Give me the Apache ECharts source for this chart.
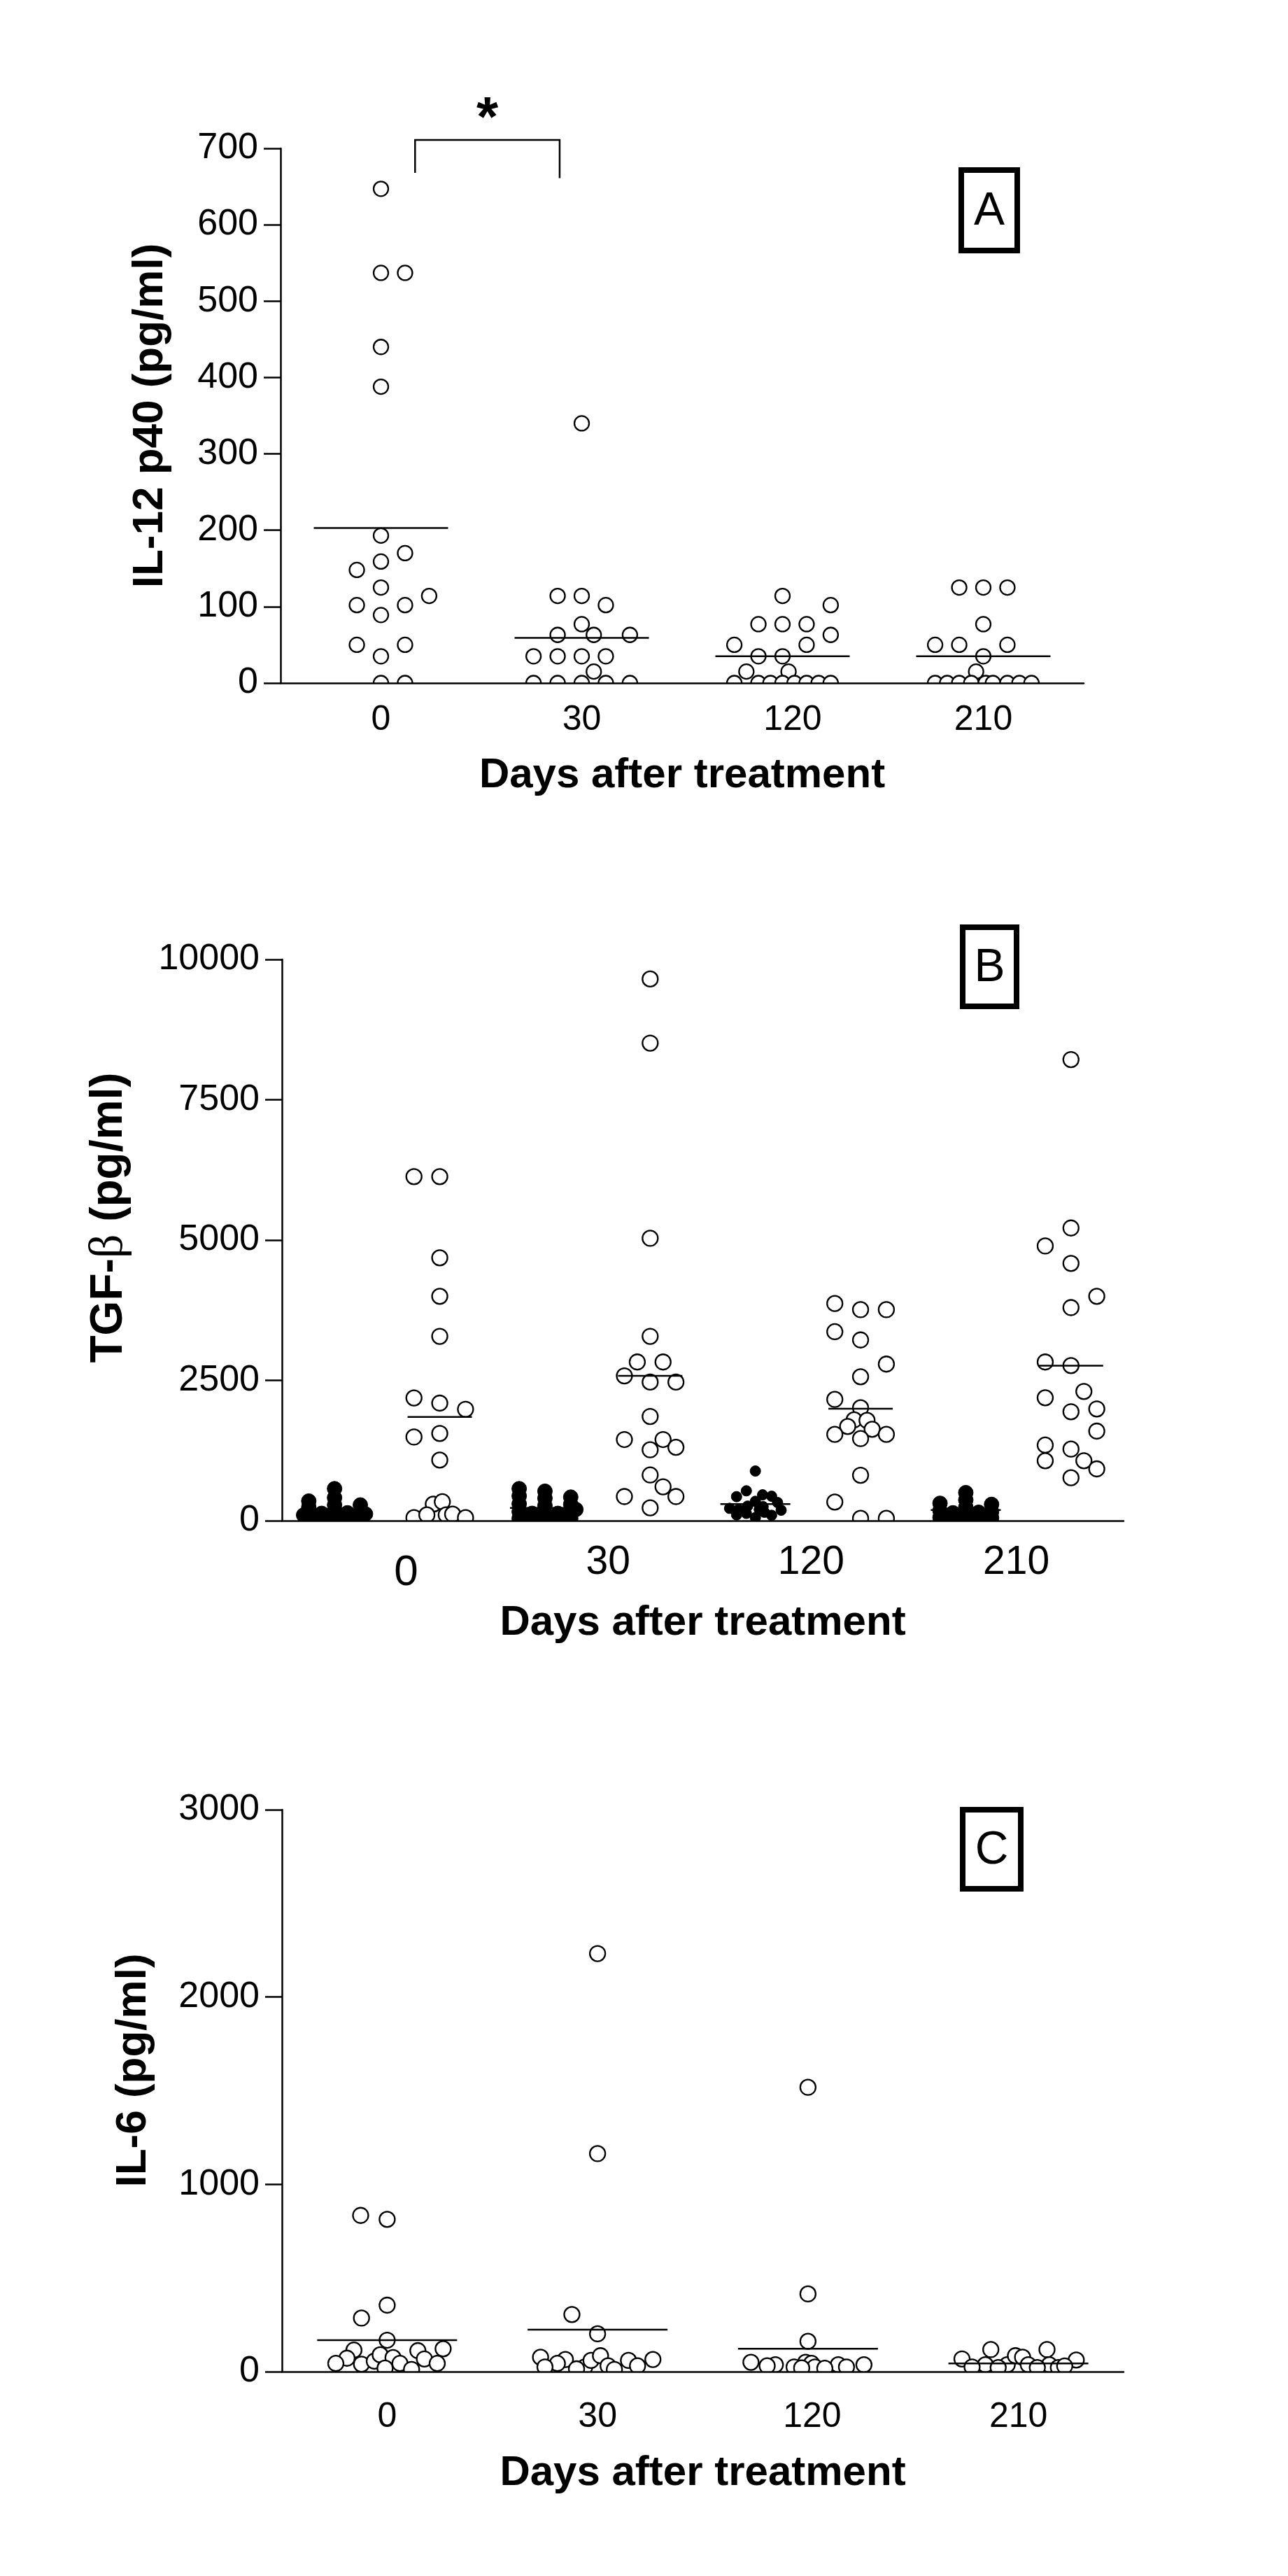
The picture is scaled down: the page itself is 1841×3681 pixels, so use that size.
<!DOCTYPE html>
<html style="height: 100%">
<head>
<meta charset="utf-8">
</head>
<body style="height: 100%; margin: 0; background: #fff">
<div id="container" style="width: 1841px; height: 3681px"></div>
<script type="text/javascript" src="https://cdn.jsdelivr.net/npm/echarts@6/dist/echarts.min.js"></script>
<script type="text/javascript">
var days = ['0', '30', '120', '210'];

// A: IL-12 p40 (pg/ml), each point is [column offset, value]
var il12Day0 = [[0,647],[0,537],[1,537],[0,440],[0,388],[0,193],[1,170],[0,159],[-1,148],[0,125],[2,114],[-1,102],[1,102],[0,89],[-1,50],[1,50],[0,35],[0,0],[1,0]];
var il12Day30 = [[0,340],[-1,114],[0,114],[1,102],[0,77],[-1,63],[0.5,63],[2,63],[-2,35],[-1,35],[0,35],[1,35],[0.5,15],[-2,0],[-1,0],[0,0],[1,0],[2,0]];
var il12Day120 = [[0,114],[2,102],[-1,77],[0,77],[1,77],[2,63],[-2,50],[1,50],[-1,35],[0,35],[-1.5,15],[0.25,15],[-2,0],[-1,0],[-0.5,0],[0,0],[0.5,0],[1,0],[1.5,0],[2,0]];
var il12Day210 = [[-1,125],[0,125],[1,125],[0,77],[-2,50],[-1,50],[1,50],[0,35],[-0.3,15],[-2,0],[-1.5,0],[-1,0],[-0.5,0],[0.1,0],[0.4,0],[1,0],[1.5,0],[2,0]];
var il12Means = [203, 59, 35, 35];
// bracket: x from, x to, top, left end, right end
var il12Bracket = [[0.67, 1.39, 711, 668, 661]];

// B: TGF-beta (pg/ml), filled and open groups per day
var tgfFilled0 = [[-1,350],[-1,240],[-1,120],[-1,40],[0,570],[0,410],[0,280],[0,160],[0,60],[1,280],[1,150],[1,50],[-0.5,130],[-0.5,30],[0.5,140],[0.5,40],[1.2,120],[-1.2,100],[0.3,100],[-0.3,90]];
var tgfOpen0 = [[-1,6130],[0,6130],[0,4684],[0,3998],[0,3285],[-1,2187],[0,2095],[1,1985],[-1,1491],[0,1555],[0,1080],[-0.25,295],[0.1,337],[-1,54],[-0.5,104],[0.25,104],[0.5,116],[1,54]];
var tgfFilled30 = [[-1,570],[-1,440],[-1,300],[-1,160],[-1,40],[0,525],[0,400],[0,270],[0,140],[0,30],[1,420],[1,290],[1,150],[1,40],[-0.5,130],[-0.5,40],[0.5,130],[0.5,40],[1.2,200]];
var tgfOpen30 = [[0,9652],[0,8509],[0,5032],[0,3285],[-0.5,2827],[0.5,2827],[-1,2580],[0,2470],[1,2470],[0,1857],[-1,1446],[0.5,1446],[0,1263],[1,1308],[0,814],[0.5,604],[-1,430],[1,430],[0,229]];
var tgfFilled120 = [[0,885],[-0.35,532],[-0.73,428],[0.28,461],[0.63,436],[0,345],[0.86,324],[-1,220],[-0.65,200],[-0.3,260],[0.3,250],[1,187],[-0.73,104],[0,54],[0.63,96],[0.35,150],[-0.35,130],[0.15,200]];
var tgfOpen120 = [[-1,3870],[0,3760],[1,3760],[-1,3367],[0,3220],[1,2790],[0,2564],[-1,2161],[0,2012],[-0.25,1796],[0.25,1787],[-0.5,1679],[0.45,1629],[-1,1538],[1,1538],[0,1463],[0,810],[-1,332],[0,42],[1,42]];
var tgfFilled210 = [[-1,310],[-1,180],[-1,60],[0,500],[0,370],[0,240],[0,110],[0,20],[1,290],[1,160],[1,50],[-0.5,140],[-0.5,30],[0.5,150],[0.5,40],[-0.25,80],[0.25,90]];
var tgfOpen210 = [[0,8216],[0,5215],[-1,4895],[0,4584],[1,3998],[0,3797],[-1,2827],[0,2763],[0.5,2303],[-1,2190],[0,1941],[1,1991],[1,1596],[-1,1347],[0,1276],[-1,1068],[0.5,1068],[1,923],[0,765]];
var tgfFilledMeans = [165, 229, 295, 190];
var tgfOpenMeans = [1848, 2580, 1994, 2763];

// C: IL-6 (pg/ml)
var il6Day0 = [[-1.26,834],[0,813],[0,355],[-1.22,286],[0,168],[-1.58,115],[-1.91,72],[-2.44,44],[-1.22,40],[-0.61,56],[-0.33,90],[0.28,75],[0.61,44],[-0.1,19],[1.16,12],[1.46,112],[1.77,68],[2.66,122],[2.38,44]];
var il6Day30 = [[0,2232],[0,1164],[-1.22,305],[0,202],[-2.71,77],[-1.53,65],[-1.91,44],[-0.61,25],[-0.31,60],[0.14,85],[0.5,31],[1.47,60],[1.9,31],[2.63,65],[-2.5,25],[-1,15],[0.8,12]];
var il6Day120 = [[0,1518],[0,415],[0,162],[-2.71,50],[-1.55,37],[-1.94,31],[-0.66,25],[-0.11,50],[0.17,44],[0.33,25],[1.44,37],[1.83,25],[2.66,37],[-0.3,20],[0.8,18]];
var il6Day210 = [[-2.68,68],[-1.31,118],[-1.57,37],[-0.53,37],[-0.14,85],[0.2,77],[0.47,37],[1.36,118],[1.47,37],[2.75,62],[-2.2,25],[-0.96,22],[0.9,22],[1.9,22],[2.2,30]];
var il6Means = [168, 224, 122, 44];

var FONT = 'Liberation Sans, Arial, sans-serif';

function spread(groups, centers, step) {
    var out = [];
    groups.forEach(function (g, i) {
        g.forEach(function (p) { out.push([centers[i] + p[0] * step, p[1]]); });
    });
    return out;
}

function dots(data, axis, r, fill, lw) {
    return {
        type: 'custom', xAxisIndex: axis, yAxisIndex: axis, clip: true, z: 3,
        data: data,
        renderItem: function (params, api) {
            var p = api.coord([api.value(0), api.value(1)]);
            return {type: 'circle', shape: {cx: p[0], cy: p[1], r: r},
                style: {fill: fill, stroke: '#000', lineWidth: lw}};
        }
    };
}

function meanLines(vals, centers, axis, hw) {
    return {
        type: 'custom', xAxisIndex: axis, yAxisIndex: axis, clip: false, z: 4,
        data: vals.map(function (v, i) { return [centers[i], v]; }),
        renderItem: function (params, api) {
            var p = api.coord([api.value(0), api.value(1)]);
            return {type: 'line', shape: {x1: p[0] - hw, y1: p[1], x2: p[0] + hw, y2: p[1]},
                style: {stroke: '#000', lineWidth: 2.5}};
        }
    };
}

function dayLabels(at, size, margin, firstRich) {
    return {
        customValues: at, margin: margin, color: '#000', fontSize: size, fontFamily: FONT,
        formatter: function (v) {
            var best = 0;
            at.forEach(function (a, i) { if (Math.abs(a - v) < Math.abs(at[best] - v)) best = i; });
            if (firstRich && best === 0) return '{big|' + days[0] + '}';
            return days[best];
        },
        rich: firstRich || {}
    };
}

function xAx(grid, max, labels, nameGap) {
    return {
        gridIndex: grid, type: 'value', min: 0, max: max,
        axisLine: {show: true, onZero: false, lineStyle: {color: '#000', width: 2.5}},
        axisTick: {show: false}, splitLine: {show: false},
        axisLabel: labels,
        name: 'Days after treatment', nameLocation: 'middle', nameGap: nameGap,
        nameTextStyle: {color: '#000', fontSize: 60, fontWeight: 'bold', fontFamily: FONT}, z: 5
    };
}

function yAx(grid, max, interval, name, nameGap, pad, rich) {
    var style = {color: '#000', fontSize: 62, fontWeight: 'bold', fontFamily: FONT, padding: pad};
    if (rich) style.rich = rich;
    return {
        gridIndex: grid, type: 'value', min: 0, max: max, interval: interval,
        axisLine: {show: true, onZero: false, lineStyle: {color: '#000', width: 2.5}},
        axisTick: {show: true, length: 24, lineStyle: {color: '#000', width: 2.5}},
        splitLine: {show: false},
        axisLabel: {color: '#000', fontSize: 52, fontFamily: FONT, margin: 32,
            formatter: function (v) { return String(v); }},
        name: name, nameLocation: 'middle', nameRotate: 90, nameGap: nameGap,
        nameTextStyle: style, z: 5
    };
}

function panelBox(x, y, w, h, letter) {
    return [
        {type: 'rect', shape: {x: x, y: y, width: w, height: h},
            style: {fill: '#fff', stroke: '#000', lineWidth: 8}, z: 10},
        {type: 'text', x: x + w / 2, y: y + h / 2 + 2,
            style: {text: letter, fontSize: 66, fontFamily: FONT, fill: '#000',
                textAlign: 'center', textVerticalAlign: 'middle'}, z: 11}
    ];
}

var centers4 = [0.5, 1.5, 2.5, 3.5];
var filledCenters = [0.5, 2.5, 4.5, 6.5];
var openCenters = [1.5, 3.5, 5.5, 7.5];

var dom = document.getElementById('container');
var myChart = echarts.init(dom, null, {renderer: 'canvas'});

var option = {
    backgroundColor: '#fff',
    animation: false,
    textStyle: {fontFamily: FONT},
    grid: [
        {left: 401, top: 212, width: 1148, height: 764},
        {left: 403, top: 1371, width: 1203, height: 802},
        {left: 403, top: 2586, width: 1203, height: 803}
    ],
    xAxis: [
        xAx(0, 4, dayLabels([0.5, 1.5, 2.55, 3.5], 50, 28), 102),
        xAx(1, 8, dayLabels([1.18, 3.1, 5.03, 6.98], 57, 32,
            {big: {fontSize: 62, fontFamily: FONT, color: '#000', padding: [12, 0, 0, 0]}}), 116),
        xAx(2, 4, dayLabels([0.5, 1.5, 2.52, 3.5], 50, 40), 115)
    ],
    yAxis: [
        yAx(0, 700, 100, 'IL-12 p40 (pg/ml)', 155, [0, 0, 0, 0]),
        yAx(1, 10000, 2500, '{b|TGF-}{g|β}{b| (pg/ml)}', 213, [0, 0, 0, 64], {
            b: {fontSize: 64, fontWeight: 'bold', fontFamily: FONT, color: '#000'},
            g: {fontSize: 68, fontWeight: 'normal', fontFamily: 'Liberation Serif, DejaVu Serif, serif', color: '#000'}
        }),
        yAx(2, 3000, 1000, 'IL-6 (pg/ml)', 181, [0, 0, 0, 58])
    ],
    graphic: [].concat(
        panelBox(1374, 243, 80, 115, 'A'),
        panelBox(1376, 1325, 77, 113, 'B'),
        panelBox(1376, 2586, 83, 113, 'C')
    ),
    series: [
        dots(spread([il12Day0, il12Day30, il12Day120, il12Day210], centers4, 0.12), 0, 10.5, '#fff', 2.3),
        meanLines(il12Means, centers4, 0, 96),
        {
            type: 'custom', xAxisIndex: 0, yAxisIndex: 0, clip: false, z: 4,
            data: il12Bracket,
            renderItem: function (params, api) {
                var a = api.coord([api.value(0), api.value(2)]);
                var b = api.coord([api.value(1), api.value(2)]);
                var l = api.coord([api.value(0), api.value(3)]);
                var r = api.coord([api.value(1), api.value(4)]);
                return {type: 'group', children: [
                    {type: 'polyline', shape: {points: [l, a, b, r]},
                        style: {stroke: '#000', lineWidth: 2.5, fill: null}},
                    {type: 'text', x: (a[0] + b[0]) / 2, y: a[1] - 28,
                        style: {text: '*', fontSize: 80, fontWeight: 'bold', fontFamily: FONT,
                            fill: '#000', textAlign: 'center', textVerticalAlign: 'middle'}}
                ]};
            }
        },
        dots(spread([tgfFilled0, tgfFilled30], [0.5, 2.5], 0.245), 1, 10.5, '#000', 1),
        dots(spread([tgfFilled210], [6.5], 0.245), 1, 10.5, '#000', 1),
        dots(spread([tgfFilled120], [4.5], 0.245), 1, 7.5, '#000', 1),
        dots(spread([tgfOpen0, tgfOpen30, tgfOpen120, tgfOpen210], openCenters, 0.245), 1, 11, '#fff', 2.3),
        meanLines(tgfFilledMeans, filledCenters, 1, 50),
        meanLines(tgfOpenMeans, openCenters, 1, 46),
        dots(spread([il6Day0, il6Day30, il6Day120, il6Day210], centers4, 0.1), 2, 11, '#fff', 2.3),
        meanLines(il6Means, centers4, 2, 100)
    ]
};

if (option && typeof option === 'object') {
    myChart.setOption(option, true);
}
</script>
</body>
</html>
